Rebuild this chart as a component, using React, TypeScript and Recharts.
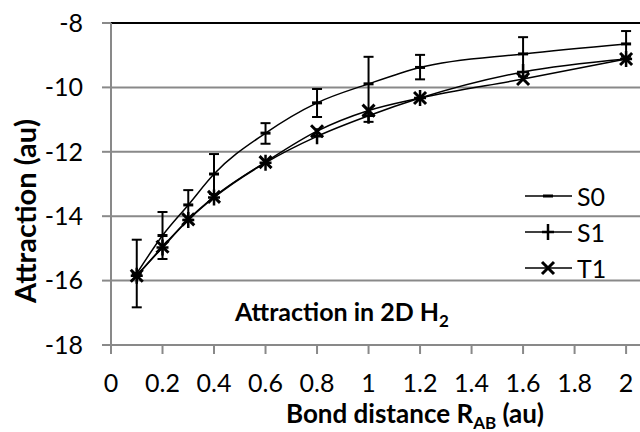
import React from 'react';
import {
  LineChart, Line, XAxis, YAxis, CartesianGrid,
  ReferenceLine, ErrorBar, Legend, Label,
} from 'recharts';

const bondDistance = [0.1, 0.2, 0.3, 0.4, 0.6, 0.8, 1.0, 1.2, 1.6, 2.0];
const s0Values = [-15.78, -14.6, -13.65, -12.69, -11.42, -10.48, -9.89, -9.38, -8.96, -8.65];
const s0ErrLow = [1.05, 0.73, 0.46, 0.62, 0.33, 0.44, 1.18, 0.37, 0.7, 0.4];
const s0ErrHigh = [1.05, 0.73, 0.46, 0.62, 0.31, 0.43, 0.84, 0.39, 0.52, 0.4];
const s1Values = [-15.85, -14.97, -14.12, -13.42, -12.34, -11.52, -10.88, -10.33, -9.52, -9.12];
const t1Values = [-15.85, -14.95, -14.1, -13.4, -12.32, -11.36, -10.72, -10.33, -9.74, -9.12];

const xTicks = [0, 0.2, 0.4, 0.6, 0.8, 1, 1.2, 1.4, 1.6, 1.8, 2];
const yTicks = [-18, -16, -14, -12, -10, -8];
const seriesNames = ['S0', 'S1', 'T1'];

const FONT = 'Lato, "Open Sans", sans-serif';
const GRID = '#898989';

const data = bondDistance.map((r, i) => ({
  r,
  s0: s0Values[i],
  s0err: [s0ErrLow[i], s0ErrHigh[i]],
  s1: s1Values[i],
  t1: t1Values[i],
}));

function marker(kind: number, cx: number, cy: number, key?: number) {
  if (kind === 0) {
    return <rect key={key} x={cx - 5} y={cy - 1.5} width={10} height={3} fill="#000" />;
  }
  if (kind === 1) {
    return (
      <path key={key} d={`M${cx - 6},${cy}H${cx + 6}M${cx},${cy - 8}V${cy + 8}`}
        stroke="#000" strokeWidth={2.5} fill="none" />
    );
  }
  return (
    <path key={key} d={`M${cx - 6},${cy - 6}L${cx + 6},${cy + 6}M${cx + 6},${cy - 6}L${cx - 6},${cy + 6}`}
      stroke="#000" strokeWidth={3} fill="none" />
  );
}

const dotFor = (kind: number) => (p: any) => marker(kind, p.cx, p.cy, p.index);

function LegendBox() {
  return (
    <div style={{ fontFamily: FONT, fontSize: 25, color: '#000' }}>
      {seriesNames.map((name, i) => (
        <div key={name} style={{ display: 'flex', alignItems: 'center', height: 36 }}>
          <svg width={50} height={36} style={{ display: 'block' }}>
            <line x1={0} x2={47} y1={18} y2={18} stroke="#000" strokeWidth={1.5} />
            {marker(i, 23, 18)}
          </svg>
          <span style={{ lineHeight: '36px', marginLeft: 2 }}>{name}</span>
        </div>
      ))}
    </div>
  );
}

function XTitle() {
  return (
    <text x={415} y={423} textAnchor="middle" fontFamily={FONT} fontWeight={700} fontSize={26} fill="#000">
      Bond distance R
      <tspan fontSize={17} dy={6}>AB</tspan>
      <tspan dy={-6}>{' (au)'}</tspan>
    </text>
  );
}

function YTitle() {
  return (
    <text transform="translate(36,211) rotate(-90)" x={0} y={0} textAnchor="middle"
      fontFamily={FONT} fontWeight={700} fontSize={29} fill="#000">
      Attraction (au)
    </text>
  );
}

export default function App() {
  return (
    <div style={{ position: 'fixed', left: 0, top: 0, width: 640, height: 432, background: '#fff' }}>
      <LineChart width={640} height={432} data={data} margin={{ top: 23, right: 0, bottom: 0, left: 0 }}>
        <CartesianGrid vertical={false} stroke={GRID} strokeWidth={2} />
        <XAxis
          type="number"
          dataKey="r"
          domain={[0, 2.054]}
          ticks={xTicks}
          height={87}
          tickSize={9}
          tickMargin={20}
          tick={{ fill: '#000', fontSize: 25, fontFamily: FONT }}
          tickLine={{ stroke: GRID, strokeWidth: 2 }}
          axisLine={{ stroke: GRID, strokeWidth: 2 }}
        >
          <Label content={<XTitle />} />
        </XAxis>
        <YAxis
          type="number"
          domain={[-18, -8]}
          ticks={yTicks}
          width={111}
          tickSize={9}
          tickMargin={19}
          tick={{ fill: '#000', fontSize: 25, fontFamily: FONT }}
          tickLine={{ stroke: GRID, strokeWidth: 2 }}
          axisLine={{ stroke: GRID, strokeWidth: 2 }}
        >
          <Label content={<YTitle />} />
        </YAxis>
        <ReferenceLine y={-8} stroke="#000" strokeWidth={2} />
        <Legend
          layout="vertical"
          align="center"
          verticalAlign="middle"
          content={() => <LegendBox />}
          wrapperStyle={{ left: 525, top: 178, width: 115 }}
        />
        <Line type="monotone" dataKey="s0" name="S0" stroke="#000" strokeWidth={1.5}
          dot={dotFor(0)} activeDot={false} isAnimationActive={false}>
          <ErrorBar dataKey="s0err" width={5} stroke="#000" strokeWidth={2} direction="y" isAnimationActive={false} />
        </Line>
        <Line type="monotone" dataKey="s1" name="S1" stroke="#000" strokeWidth={1.5}
          dot={dotFor(1)} activeDot={false} isAnimationActive={false} />
        <Line type="monotone" dataKey="t1" name="T1" stroke="#000" strokeWidth={1.5}
          dot={dotFor(2)} activeDot={false} isAnimationActive={false} />
      </LineChart>
      <div style={{
        position: 'absolute', left: 235, top: 299, fontFamily: FONT, fontWeight: 700,
        fontSize: 25, lineHeight: 1, whiteSpace: 'nowrap', color: '#000',
      }}>
        Attraction in 2D H<span style={{ fontSize: 17, position: 'relative', top: 6 }}>2</span>
      </div>
    </div>
  );
}
